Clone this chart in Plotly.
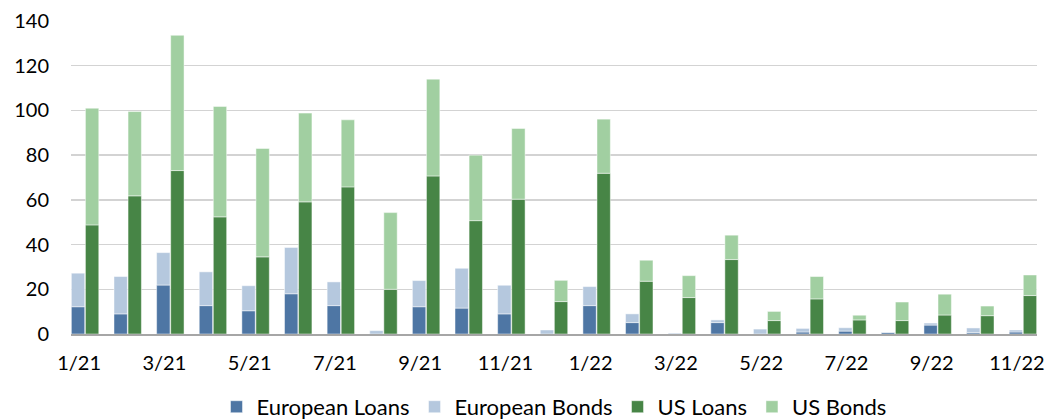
import plotly.graph_objects as go

months = ["1/21","2/21","3/21","4/21","5/21","6/21","7/21","8/21","9/21","10/21","11/21","12/21",
          "1/22","2/22","3/22","4/22","5/22","6/22","7/22","8/22","9/22","10/22","11/22"]
eu_loans = [12.2, 9.0, 21.9, 12.7, 10.4, 18.0, 12.7, 0.0, 12.2, 11.6, 9.0, 0.0,
            12.7, 5.1, 0.0, 5.1, 0.0, 0.9, 1.3, 0.7, 4.0, 0.6, 0.9]
eu_bonds = [15.0, 16.7, 14.5, 15.1, 11.2, 20.7, 10.6, 1.5, 11.7, 17.8, 12.8, 1.8,
            8.5, 3.9, 0.4, 1.2, 2.2, 1.6, 1.5, 0.2, 0.9, 2.1, 0.9]
us_loans = [48.8, 61.8, 73.1, 52.4, 34.5, 59.1, 65.8, 20.0, 70.7, 50.7, 60.3, 14.5,
            71.9, 23.6, 16.3, 33.3, 6.0, 15.7, 6.3, 6.0, 8.5, 8.2, 17.2]
us_bonds = [52.2, 37.7, 60.5, 49.4, 48.5, 39.7, 30.0, 34.3, 43.3, 29.3, 31.6, 9.5,
            24.2, 9.4, 9.8, 10.9, 4.1, 10.0, 2.1, 8.3, 9.3, 4.3, 9.2]
tick_labels = months[::2]

colors = {"eu_loans": "#4E76A4", "eu_bonds": "#B5C8DE", "us_loans": "#478546", "us_bonds": "#A1CFA1"}
line = dict(color="rgba(255,255,255,0.6)", width=0.8)
bargap = 0.34

fig = go.Figure()
fig.add_bar(x=months, y=eu_loans, name="European Loans", offsetgroup="eu",
            marker=dict(color=colors["eu_loans"], line=line))
fig.add_bar(x=months, y=eu_bonds, base=eu_loans, name="European Bonds", offsetgroup="eu",
            marker=dict(color=colors["eu_bonds"], line=line))
fig.add_bar(x=months, y=us_loans, name="US Loans", offsetgroup="us",
            marker=dict(color=colors["us_loans"], line=line))
fig.add_bar(x=months, y=us_bonds, base=us_loans, name="US Bonds", offsetgroup="us",
            marker=dict(color=colors["us_bonds"], line=line))

fig.update_layout(
    width=1055, height=419,
    margin=dict(l=71, r=18, t=21, b=85, autoexpand=False),
    barmode="group", bargap=bargap, bargroupgap=0.05,
    plot_bgcolor="white", paper_bgcolor="white",
    font=dict(family="Lato, 'Open Sans', sans-serif", size=20, color="#000000"),
    showlegend=True,
    legend=dict(orientation="h", x=0.5, xanchor="center", y=-0.233, yanchor="middle",
                font=dict(size=22), traceorder="normal", itemwidth=30),
    hovermode=False,
)
fig.update_xaxes(type="category", tickmode="array", tickvals=tick_labels, ticktext=tick_labels,
                 range=[-0.5 + bargap / 2, len(months) - 0.5 - bargap / 2],
                 showline=True, linecolor="#A6A6A6", linewidth=1.5, ticks="", showgrid=False,
                 tickfont=dict(size=20), automargin=False, ticklabelstandoff=10,
                 ticklabelshift=-6)
fig.update_yaxes(range=[0, 140], dtick=20, showgrid=True, gridcolor="#D3D3D3", gridwidth=1.3,
                 zeroline=False, ticks="", tickfont=dict(size=20), ticklabelstandoff=21,
                 automargin=False)

fig.write_html("out.html", config={"displayModeBar": False, "staticPlot": True},
               post_script="document.body.style.margin='0';document.body.style.overflow='hidden';")
